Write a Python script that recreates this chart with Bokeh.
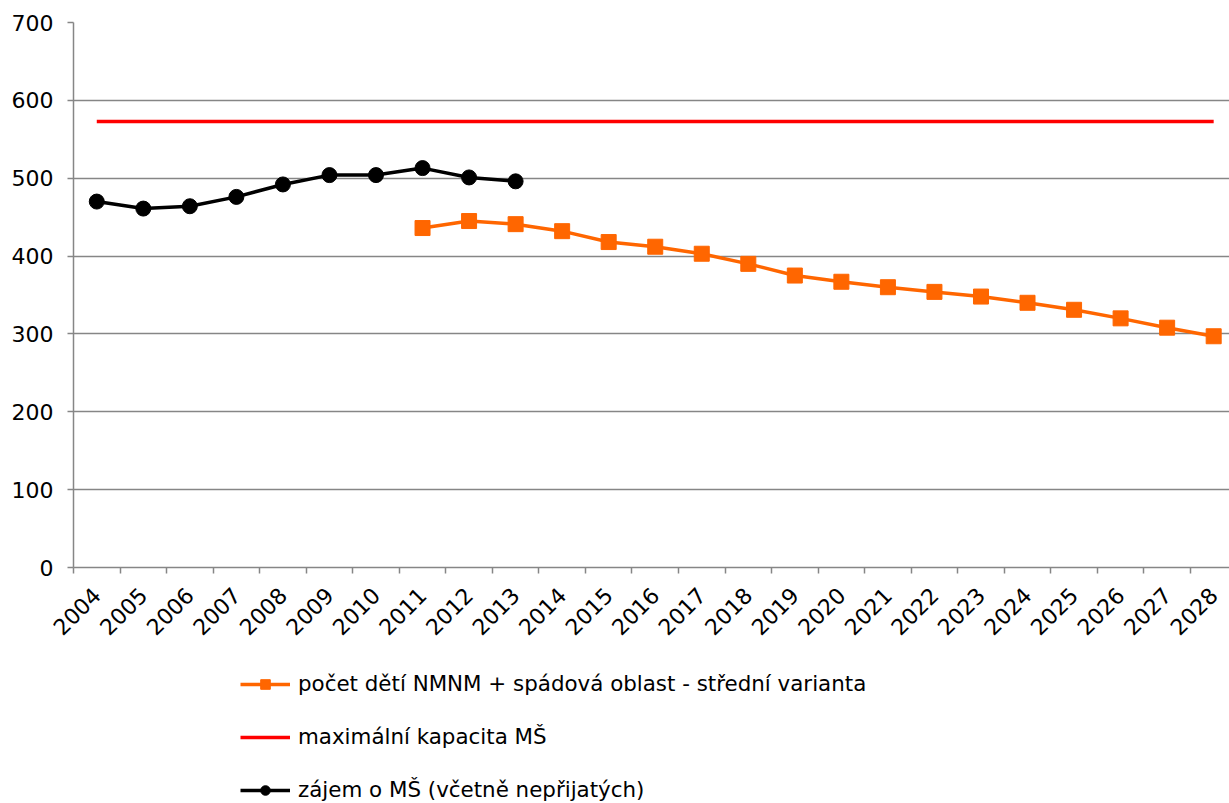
import math
from bokeh.plotting import figure
from bokeh.layouts import column
from bokeh.models import FixedTicker, Legend, LegendItem, ColumnDataSource
from bokeh.embed import file_html
from bokeh.resources import INLINE

# ---- data ----
years = [str(y) for y in range(2004, 2029)]
zajem_years = [str(y) for y in range(2004, 2014)]
zajem = [470, 461, 464, 476, 492, 504, 504, 513, 501, 496]
pocet_years = [str(y) for y in range(2011, 2029)]
pocet = [436, 445, 441, 432, 418, 412, 403, 390, 375, 367, 360, 354, 348, 340, 331, 320, 308, 297]
kapacita = [573] * len(years)
y_ticks = [0, 100, 200, 300, 400, 500, 600, 700]

label_pocet = "počet dětí NMNM + spádová oblast - střední varianta"
label_kap = "maximální kapacita MŠ"
label_zajem = "zájem o MŠ (včetně nepřijatých)"

idx = {y: i for i, y in enumerate(years)}

FONT = "DejaVu Sans"
GRAY = "#868686"
FS = "22px"
ORANGE = "#FF6600"
RED = "#FF0000"

p = figure(frame_width=1156, frame_height=545, x_range=(-0.5, 24.34), y_range=(0, 700),
           output_backend="svg", toolbar_location=None,
           min_border_top=22, min_border_left=73, min_border_right=0, min_border_bottom=0)
p.outline_line_color = None
p.xgrid.grid_line_color = None
p.ygrid.grid_line_color = GRAY
p.ygrid.grid_line_width = 1.5
p.ygrid.ticker = FixedTicker(ticks=y_ticks)

p.yaxis.ticker = FixedTicker(ticks=y_ticks)
p.yaxis.axis_line_color = GRAY
p.yaxis.axis_line_width = 1.5
p.yaxis.major_tick_line_color = GRAY
p.yaxis.major_tick_line_width = 1.5
p.yaxis.major_tick_out = 6
p.yaxis.major_tick_in = 0
p.yaxis.minor_tick_line_color = None
p.yaxis.major_label_text_font = FONT
p.yaxis.major_label_text_font_size = FS
p.yaxis.major_label_text_color = "black"
p.yaxis.major_label_standoff = 14

p.xaxis.ticker = FixedTicker(ticks=list(range(len(years))),
                             minor_ticks=[i - 0.5 for i in range(len(years))])
p.xaxis.major_label_overrides = {i: y for i, y in enumerate(years)}
p.xaxis.axis_line_color = GRAY
p.xaxis.axis_line_width = 1.5
p.xaxis.major_tick_line_color = None
p.xaxis.major_tick_out = 0
p.xaxis.major_tick_in = 0
p.xaxis.minor_tick_line_color = GRAY
p.xaxis.minor_tick_line_width = 1.5
p.xaxis.minor_tick_out = 6
p.xaxis.minor_tick_in = 0
p.xaxis.major_label_orientation = math.pi / 4
p.xaxis.major_label_text_font = FONT
p.xaxis.major_label_text_font_size = FS
p.xaxis.major_label_text_color = "black"
p.xaxis.major_label_standoff = 18

src_p = ColumnDataSource(dict(x=[idx[y] for y in pocet_years], y=pocet))
src_k = ColumnDataSource(dict(x=[idx[y] for y in years], y=kapacita))
src_z = ColumnDataSource(dict(x=[idx[y] for y in zajem_years], y=zajem))

p.line("x", "y", source=src_k, line_color=RED, line_width=3.5)
p.line("x", "y", source=src_p, line_color=ORANGE, line_width=3.5)
p.scatter("x", "y", source=src_p, marker="square", size=15, fill_color=ORANGE, line_color=ORANGE)
p.line("x", "y", source=src_z, line_color="black", line_width=3.5)
p.scatter("x", "y", source=src_z, marker="circle", size=15, fill_color="black", line_color="black")

# ---- legend figure below the chart ----
p2 = figure(frame_width=1156, height=157, x_range=(0, 1), y_range=(0, 1),
            output_backend="svg", toolbar_location=None,
            x_axis_type=None, y_axis_type=None,
            min_border_left=73, min_border_top=0, min_border_right=0, min_border_bottom=0)
p2.outline_line_color = None
p2.grid.grid_line_color = None

# off-range single points so that the legend samples get drawn
off = dict(x=[-10], y=[-10])
l_pl = p2.line("x", "y", source=ColumnDataSource(off), line_color=ORANGE, line_width=3.5)
l_pm = p2.scatter("x", "y", source=ColumnDataSource(off), marker="square", size=11,
                  fill_color=ORANGE, line_color=ORANGE)
l_k = p2.line("x", "y", source=ColumnDataSource(off), line_color=RED, line_width=3.5)
l_zl = p2.line("x", "y", source=ColumnDataSource(off), line_color="black", line_width=3.5)
l_zm = p2.scatter("x", "y", source=ColumnDataSource(off), marker="circle", size=9,
                  fill_color="black", line_color="black")

legend = Legend(items=[
    LegendItem(label=label_pocet, renderers=[l_pl, l_pm]),
    LegendItem(label=label_kap, renderers=[l_k]),
    LegendItem(label=label_zajem, renderers=[l_zl, l_zm]),
], orientation="vertical", location=(167, 0))
legend.label_text_font = FONT
legend.label_text_font_size = "21.4px"
legend.label_text_color = "black"
legend.glyph_width = 50
legend.glyph_height = 24
legend.label_height = 24
legend.spacing = 28
legend.padding = 0
legend.margin = 0
legend.label_standoff = 8
legend.border_line_color = None
legend.background_fill_alpha = 0
p2.add_layout(legend)

layout = column(p, p2, spacing=0)
open("out.html", "w").write(file_html(layout, INLINE))
